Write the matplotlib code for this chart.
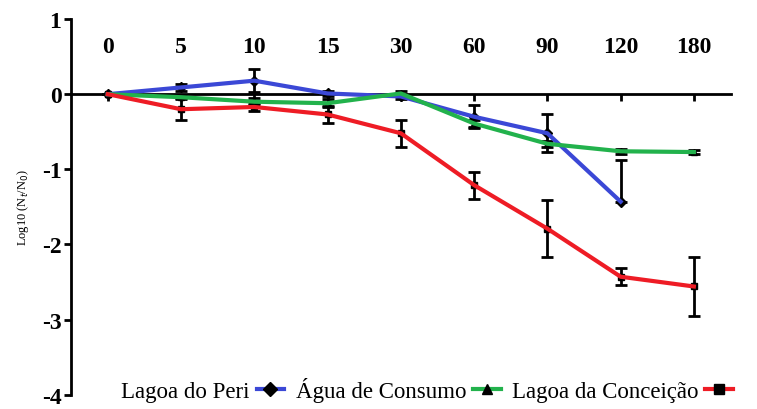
import numpy as np
import matplotlib.pyplot as plt

plt.rcParams['font.family'] = ['Liberation Serif', 'DejaVu Serif']

# sampling times (categorical axis)
times = ["0", "5", "10", "15", "30", "60", "90", "120", "180"]

# log10(Nt/N0) per site
peri = [0.0, 0.09, 0.18, 0.01, -0.03, -0.30, -0.52, -1.43, np.nan]
peri_err_lo = [0.0, 0.05, 0.15, 0.03, 0.03, 0.15, 0.25, 0.0, 0.0]
peri_err_hi = [0.0, 0.05, 0.15, 0.03, 0.03, 0.15, 0.25, 0.55, 0.0]

consumo = [0.0, -0.04, -0.10, -0.12, 0.01, -0.39, -0.66, -0.76, -0.77]
consumo_err = [0.0, 0.03, 0.05, 0.05, 0.03, 0.05, 0.04, 0.03, 0.03]

conceicao = [0.0, -0.20, -0.17, -0.27, -0.52, -1.21, -1.79, -2.43, -2.56]
conceicao_err = [0.0, 0.15, 0.05, 0.11, 0.18, 0.18, 0.38, 0.11, 0.39]

x = np.arange(len(times))

fig = plt.figure(figsize=(7.57, 4.10), dpi=100)
ax = fig.add_axes([0.094, 0.035, 0.871, 0.916])

series = [
    ("Lagoa do Peri", peri, [peri_err_lo, peri_err_hi], "#3b48d6", "D"),
    ("Água de Consumo", consumo, consumo_err, "#22b24c", "^"),
    ("Lagoa da Conceição", conceicao, conceicao_err, "#ee1c25", "s"),
]

for label, y, err, col, mk in series:
    ax.errorbar(x, y, yerr=err, fmt="none", ecolor="black", elinewidth=2,
                capsize=4, capthick=2, zorder=2)
    ax.plot(x, y, linestyle="none", marker=mk, color="black", ms=5, zorder=3)
    ax.plot(x, y, color=col, lw=3, zorder=4)
    # proxy for legend: line with marker
    ax.plot([], [], color=col, lw=3, marker=mk, mfc="black", mec="black",
            ms=7, label=label)

ax.set_xlim(-0.5, 8.5)
ax.set_ylim(-4, 1)

ax.spines["top"].set_visible(False)
ax.spines["right"].set_visible(False)
ax.spines["bottom"].set_position(("data", 0))
ax.spines["left"].set_linewidth(2)
ax.spines["bottom"].set_linewidth(2)

ax.set_xticks(x)
ax.set_xticklabels([])
ax.tick_params(axis="x", direction="out", length=5, width=2)
for xi, t in zip(x, times):
    ax.text(xi, 0.64, t, ha="center", va="center", fontsize=17,
            fontweight="bold")

ax.set_yticks([1, 0, -1, -2, -3, -4])
ax.set_yticklabels(["1", "0", "-1", "-2", "-3", "-4"], fontsize=17,
                   fontweight="bold")
ax.tick_params(axis="y", direction="out", length=5, width=2, pad=2)

ax.set_ylabel(r"Log10 (N$_t$/N$_0$)", fontsize=9, labelpad=8)

ax.legend(loc="lower center", bbox_to_anchor=(0.54, -0.075), ncol=3,
          frameon=False, markerfirst=False, fontsize=16.5, handlelength=1.2,
          columnspacing=0.5, handletextpad=0.3)

fig.savefig("out.png", dpi=100)
